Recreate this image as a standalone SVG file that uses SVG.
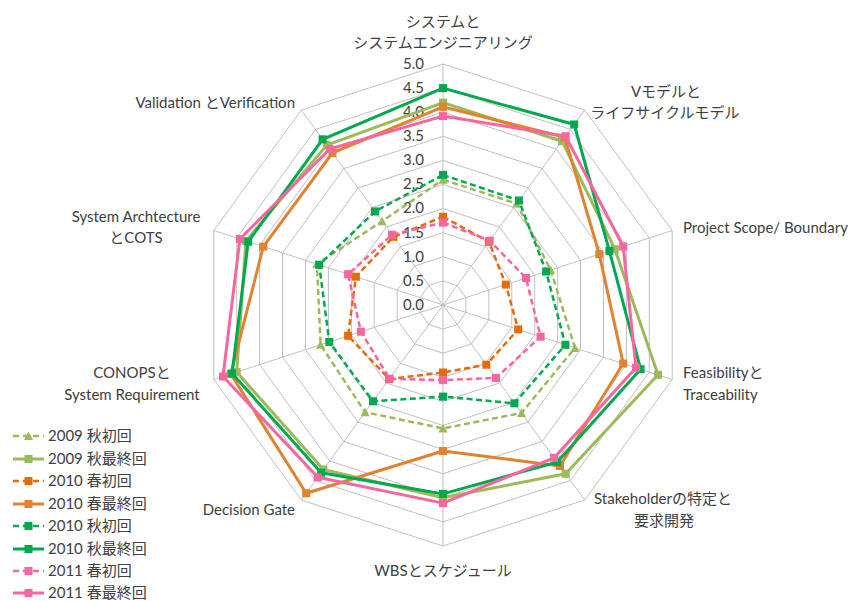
<svg xmlns="http://www.w3.org/2000/svg" width="857" height="601" viewBox="0 0 857 601">
<style>
.grid{fill:none;stroke:#C0C0C0;stroke-width:1}
.tick{font-family:Lato,"Noto Sans","Noto Sans CJK JP",sans-serif;font-size:15px;fill:#404040;text-anchor:end}
.lbl{font-family:Lato,"Noto Sans","Noto Sans CJK JP",sans-serif;font-size:15px;fill:#404040}
.mid{text-anchor:middle}
.end{text-anchor:end}
.ser{fill:none;stroke-linejoin:round}
.dash{stroke-width:2.5;stroke-dasharray:6 3.5}
.solid{stroke-width:3}
.ldash{stroke-dasharray:6 4}
</style>
<defs>
<marker id="mTri" markerUnits="userSpaceOnUse" markerWidth="10" markerHeight="10" refX="5" refY="5" viewBox="0 0 10 10"><path d="M5 0.5L9.5 9L0.5 9Z" fill="#9BBB59"/></marker>
<marker id="mOl" markerUnits="userSpaceOnUse" markerWidth="10" markerHeight="10" refX="5" refY="5" viewBox="0 0 10 10"><rect x="1" y="1" width="8" height="8" fill="#9BBB59"/></marker>
<marker id="mOr1" markerUnits="userSpaceOnUse" markerWidth="10" markerHeight="10" refX="5" refY="5" viewBox="0 0 10 10"><rect x="1" y="1" width="8" height="8" fill="#E46C0A"/></marker>
<marker id="mOr2" markerUnits="userSpaceOnUse" markerWidth="10" markerHeight="10" refX="5" refY="5" viewBox="0 0 10 10"><rect x="1" y="1" width="8" height="8" fill="#E0822F"/></marker>
<marker id="mGr" markerUnits="userSpaceOnUse" markerWidth="10" markerHeight="10" refX="5" refY="5" viewBox="0 0 10 10"><rect x="1" y="1" width="8" height="8" fill="#00A84F"/></marker>
<marker id="mPk" markerUnits="userSpaceOnUse" markerWidth="10" markerHeight="10" refX="5" refY="5" viewBox="0 0 10 10"><rect x="1" y="1" width="8" height="8" fill="#F7669F"/></marker>
</defs>
<rect width="857" height="601" fill="#FFFFFF"/>
<g id="grid" class="grid">
<polygon points="443,280.9 457.2,285.5 465.9,297.6 465.9,312.4 457.2,324.5 443,329.1 428.8,324.5 420.1,312.4 420.1,297.6 428.8,285.5"/>
<polygon points="443,256.8 471.3,266.0 488.8,290.1 488.8,319.9 471.3,344.0 443,353.2 414.7,344.0 397.2,319.9 397.2,290.1 414.7,266.0"/>
<polygon points="443,232.7 485.5,246.5 511.8,282.7 511.8,327.3 485.5,363.5 443,377.3 400.5,363.5 374.2,327.3 374.2,282.7 400.5,246.5"/>
<polygon points="443,208.6 499.7,227.0 534.7,275.2 534.7,334.8 499.7,383.0 443,401.4 386.3,383.0 351.3,334.8 351.3,275.2 386.3,227.0"/>
<polygon points="443,184.5 513.8,207.5 557.6,267.8 557.6,342.2 513.8,402.5 443,425.5 372.2,402.5 328.4,342.2 328.4,267.8 372.2,207.5"/>
<polygon points="443,160.4 528.0,188.0 580.5,260.3 580.5,349.7 528.0,422.0 443,449.6 358.0,422.0 305.5,349.7 305.5,260.3 358.0,188.0"/>
<polygon points="443,136.3 542.2,168.5 603.5,252.9 603.5,357.1 542.2,441.5 443,473.7 343.8,441.5 282.5,357.1 282.5,252.9 343.8,168.5"/>
<polygon points="443,112.2 556.3,149.0 626.4,245.4 626.4,364.6 556.3,461.0 443,497.8 329.7,461.0 259.6,364.6 259.6,245.4 329.7,149.0"/>
<polygon points="443,88.1 570.5,129.5 649.3,238.0 649.3,372.0 570.5,480.5 443,521.9 315.5,480.5 236.7,372.0 236.7,238.0 315.5,129.5"/>
<polygon points="443,64 584.7,110.0 672.2,230.5 672.2,379.5 584.7,500.0 443,546 301.3,500.0 213.8,379.5 213.8,230.5 301.3,110.0"/>
<path d="M443 305L443 64M443 305L584.7 110M443 305L672.2 230.5M443 305L672.2 379.5M443 305L584.7 500M443 305L443 546M443 305L301.3 500M443 305L213.8 379.5M443 305L213.8 230.5M443 305L301.3 110"/>
</g>
<g id="ticks">
<text class="tick" x="424" y="310">0.0</text>
<text class="tick" x="424" y="286">0.5</text>
<text class="tick" x="424" y="262">1.0</text>
<text class="tick" x="424" y="238">1.5</text>
<text class="tick" x="424" y="213">2.0</text>
<text class="tick" x="424" y="189">2.5</text>
<text class="tick" x="424" y="165">3.0</text>
<text class="tick" x="424" y="141">3.5</text>
<text class="tick" x="424" y="117">4.0</text>
<text class="tick" x="424" y="93">4.5</text>
<text class="tick" x="424" y="69">5.0</text>
</g>
<g id="categories">
<g id="cat-system"><text class="lbl mid" x="443" y="27">システムと</text><text class="lbl mid" x="443" y="48">システムエンジニアリング</text></g>
<g id="cat-vmodel"><text class="lbl mid" x="666" y="97">Vモデルと</text><text class="lbl mid" x="665" y="118">ライフサイクルモデル</text></g>
<g id="cat-scope"><text class="lbl" x="683" y="233">Project Scope/ Boundary</text></g>
<g id="cat-feas"><text class="lbl" x="683" y="378">Feasibilityと</text><text class="lbl" x="683" y="400">Traceability</text></g>
<g id="cat-stake"><text class="lbl mid" x="663" y="504">Stakeholderの特定と</text><text class="lbl mid" x="664" y="526">要求開発</text></g>
<g id="cat-wbs"><text class="lbl mid" x="443" y="576">WBSとスケジュール</text></g>
<g id="cat-decision"><text class="lbl end" x="295" y="515">Decision Gate</text></g>
<g id="cat-conops"><text class="lbl mid" x="132" y="378">CONOPSと</text><text class="lbl mid" x="132" y="400">System Requirement</text></g>
<g id="cat-arch"><text class="lbl mid" x="136" y="222">System Archtecture</text><text class="lbl mid" x="136" y="243">とCOTS</text></g>
<g id="cat-vv"><text class="lbl end" x="295" y="108">Validation とVerification</text></g>
</g>
<g id="series">
<polygon id="s2009a-init" class="ser dash" stroke="#9BBB59" marker-start="url(#mTri)" marker-mid="url(#mTri)" points="443,179.7 516.7,203.6 550.7,270.0 575.0,347.9 521.5,413.0 443,428.4 365.1,412.2 320.6,344.8 316.9,264.1 382.1,221.2"/>
<polygon id="s2009a-final" class="ser solid" stroke="#9BBB59" marker-start="url(#mOl)" marker-mid="url(#mOl)" points="443,102.6 562.0,141.2 614.9,249.2 658.0,374.8 565.7,473.8 443,497.8 323.4,469.5 236.7,372.0 245.9,241.0 326.8,145.1"/>
<polygon id="s2010s-init" class="ser dash" stroke="#E46C0A" marker-start="url(#mOr1)" marker-mid="url(#mOr1)" points="443,216.8 488.9,241.8 505.8,284.6 518.2,329.4 486.3,364.7 443,372.5 389.2,379.1 348.1,335.8 355.9,276.7 393.4,236.8"/>
<polygon id="s2010s-final" class="ser solid" stroke="#E0822F" marker-start="url(#mOr2)" marker-mid="url(#mOr2)" points="443,106.9 564.8,137.3 599.3,254.2 623.2,363.5 560.0,466.0 443,451.0 306.2,493.3 230.8,373.9 263.3,246.6 332.5,152.9"/>
<polygon id="s2010a-init" class="ser dash" stroke="#00A84F" marker-start="url(#mGr)" marker-mid="url(#mGr)" points="443,174.9 518.9,200.5 546.1,271.5 565.4,344.8 514.4,403.3 443,396.6 373.0,401.3 329.3,341.9 319.2,264.8 375.0,211.4"/>
<polygon id="s2010a-final" class="ser solid" stroke="#00A84F" marker-start="url(#mGr)" marker-mid="url(#mGr)" points="443,88.1 574.2,124.5 609.4,250.9 640.6,369.2 557.2,462.1 443,493.9 321.2,472.7 232.1,373.5 248.2,241.7 322.6,139.3"/>
<polygon id="s2011s-init" class="ser dash" stroke="#F7669F" marker-start="url(#mPk)" marker-mid="url(#mPk)" points="443,222.6 489.7,240.7 526.0,278.0 540.6,336.7 496.0,377.9 443,380.2 389.5,378.7 360.9,331.7 348.1,274.2 392.0,234.8"/>
<polygon id="s2011s-final" class="ser solid" stroke="#F7669F" marker-start="url(#mPk)" marker-mid="url(#mPk)" points="443,116.1 565.7,136.2 623.2,246.5 636.0,367.7 554.1,457.8 443,503.1 317.8,477.3 223.0,376.5 239.9,239.0 329.7,149.0"/>
</g>
<g id="legend">
<g id="lg1"><path class="ser dash ldash" stroke="#9BBB59" d="M13 436H44"/><path d="M28.5 431.5L33 440L24 440Z" fill="#9BBB59"/><text class="lbl" x="48" y="441">2009 秋初回</text></g>
<g id="lg2"><path class="ser solid" stroke="#9BBB59" d="M13 459H44"/><rect x="24.5" y="455" width="8" height="8" fill="#9BBB59"/><text class="lbl" x="48" y="464">2009 秋最終回</text></g>
<g id="lg3"><path class="ser dash ldash" stroke="#E46C0A" d="M13 481H44"/><rect x="24.5" y="477" width="8" height="8" fill="#E46C0A"/><text class="lbl" x="48" y="486">2010 春初回</text></g>
<g id="lg4"><path class="ser solid" stroke="#E0822F" d="M13 504H44"/><rect x="24.5" y="500" width="8" height="8" fill="#E0822F"/><text class="lbl" x="48" y="509">2010 春最終回</text></g>
<g id="lg5"><path class="ser dash ldash" stroke="#00A84F" d="M13 526H44"/><rect x="24.5" y="522" width="8" height="8" fill="#00A84F"/><text class="lbl" x="48" y="531">2010 秋初回</text></g>
<g id="lg6"><path class="ser solid" stroke="#00A84F" d="M13 549H44"/><rect x="24.5" y="545" width="8" height="8" fill="#00A84F"/><text class="lbl" x="48" y="554">2010 秋最終回</text></g>
<g id="lg7"><path class="ser dash ldash" stroke="#F7669F" d="M13 571H44"/><rect x="24.5" y="567" width="8" height="8" fill="#F7669F"/><text class="lbl" x="48" y="576">2011 春初回</text></g>
<g id="lg8"><path class="ser solid" stroke="#F7669F" d="M13 593H44"/><rect x="24.5" y="589" width="8" height="8" fill="#F7669F"/><text class="lbl" x="48" y="598">2011 春最終回</text></g>
</g>
</svg>
